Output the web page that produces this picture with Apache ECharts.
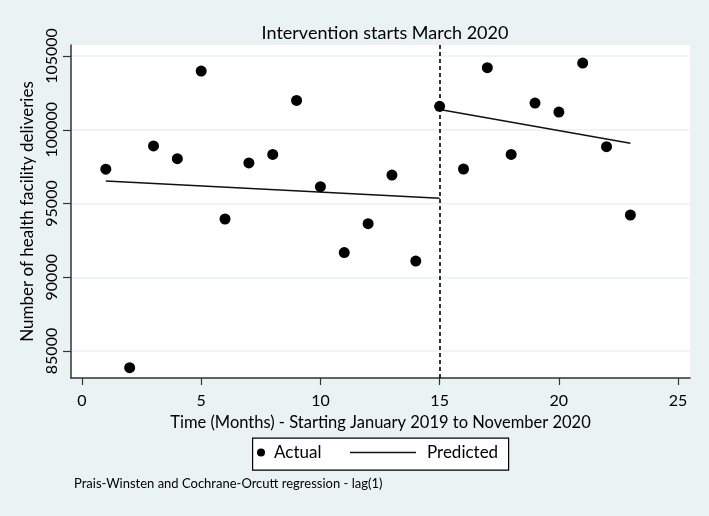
<!DOCTYPE html>
<html>
<head>
<meta charset="utf-8">
<script src="https://cdn.jsdelivr.net/npm/echarts@6/dist/echarts.min.js"></script>
<style>
html,body{margin:0;padding:0;background:#eaf2f3;}
#c{width:709px;height:516px;}
</style>
</head>
<body>
<div id="c"></div>
<script>
// Data
const months = [1,2,3,4,5,6,7,8,9,10,11,12,13,14,15,16,17,18,19,20,21,22,23];
const actual = [97330,83870,98900,98040,103980,93950,97750,98330,101990,96140,91670,93630,96930,91100,101590,97340,104210,98330,101810,101200,104520,98850,94220];
const predPreX = [1,15];
const predPreY = [96520,95350];
const predPostX = [15,23];
const predPostY = [101380,99080];
const xTicks = [0,5,10,15,20,25];
const yTicks = [85000,90000,95000,100000,105000];
const interventionX = 15;

const FONT = 'Lato';
const chart = echarts.init(document.getElementById('c'), null, {renderer:'canvas'});

const actualData = months.map((m,i)=>[m, actual[i]]);
const preData = predPreX.map((x,i)=>[x, predPreY[i]]);
const postData = predPostX.map((x,i)=>[x, predPostY[i]]);

chart.setOption({
  backgroundColor: '#eaf2f3',
  animation: false,
  title: {
    text: 'Intervention starts March 2020',
    left: 380, textAlign: 'center', top: 19,
    textStyle: {fontFamily: FONT, fontSize: 18, fontWeight: 'normal', color: '#000'}
  },
  grid: {left: 71, top: 45, right: 19, bottom: 138, show: true, backgroundColor: '#fff', borderWidth: 0},
  xAxis: {
    type: 'value', min: -0.46, max: 25.5,
    name: 'Time (Months) - Starting January 2019 to November 2020',
    nameLocation: 'middle', nameGap: 30,
    nameTextStyle: {fontFamily: FONT, fontSize: 16.5, color: '#000'},
    axisLine: {show: true, onZero: false, lineStyle: {color: '#333', width: 1.5}},
    axisTick: {show: true, length: 7, customValues: xTicks, lineStyle: {color: '#333', width: 1.2}},
    axisLabel: {customValues: xTicks, margin: 15, fontFamily: FONT, fontSize: 16, color: '#000'},
    splitLine: {show: false}
  },
  yAxis: {
    type: 'value', min: 83170, max: 105746,
    name: 'Number of health facility deliveries',
    nameLocation: 'middle', nameGap: 31, nameRotate: 90,
    nameTextStyle: {fontFamily: FONT, fontSize: 17, color: '#000'},
    axisLine: {show: true, onZero: false, lineStyle: {color: '#333', width: 1.5}},
    axisTick: {show: true, length: 8, customValues: yTicks, lineStyle: {color: '#333', width: 1.2}},
    axisLabel: {customValues: yTicks, rotate: 90, margin: 11, fontFamily: FONT, fontSize: 16, color: '#000',
      formatter: v => String(v)},
    splitLine: {show: true, lineStyle: {color: '#eaf2f3', width: 1.5}}
  },
  legend: [
    {
      data: [{name: 'Actual', icon: 'circle'}],
      left: 257, top: 444, itemWidth: 8, itemHeight: 8, itemGap: 0,
      padding: [0,0,0,0],
      textStyle: {fontFamily: FONT, fontSize: 17, color: '#000', padding: [0,0,0,4]},
      selectedMode: false
    },
    {
      data: [{name: 'Predicted', icon: 'path://M0,0L66,0L66,1.5L0,1.5Z'}],
      left: 350, top: 444, itemWidth: 66, itemHeight: 10,
      padding: [0,0,0,0],
      textStyle: {fontFamily: FONT, fontSize: 17, color: '#000', padding: [0,0,0,6]},
      selectedMode: false
    }
  ],
  graphic: [
    {type: 'rect', left: 252, top: 437.5, shape: {width: 256, height: 32}, style: {fill: '#fff', stroke: '#000', lineWidth: 1.2}, z: -1},
    {type: 'text', left: 74, top: 477, style: {text: 'Prais-Winsten and Cochrane-Orcutt regression - lag(1)', font: '13px Lato', fill: '#000'}}
  ],
  series: [
    {
      name: 'Actual', type: 'scatter', data: actualData,
      symbol: 'circle', symbolSize: 11,
      itemStyle: {color: '#000', opacity: 1}, z: 5,
      markLine: {
        silent: true, symbol: ['none','none'], label: {show: false},
        lineStyle: {color: '#000', type: [4,3], width: 1.6},
        data: [{xAxis: interventionX}]
      }
    },
    {
      name: 'Predicted', type: 'line', data: preData, symbol: 'none',
      lineStyle: {color: '#111', width: 1.5}, itemStyle: {color: '#111'}
    },
    {
      name: 'Predicted', type: 'line', data: postData, symbol: 'none',
      lineStyle: {color: '#111', width: 1.5}, itemStyle: {color: '#111'}
    }
  ]
});
</script>
</body>
</html>
